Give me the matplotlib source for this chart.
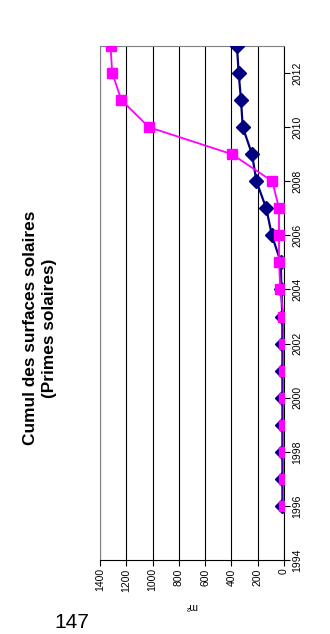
import matplotlib.pyplot as plt

years = list(range(1996, 2014))
# surfaces cumulées (m²) - deux séries
navy_vals = [12, 12, 12, 12, 12, 12, 12, 13, 20, 24, 92, 135, 210, 243, 314, 327, 345, 358]
pink_vals = [3, 3, 3, 3, 3, 3, 3, 4, 28, 38, 38, 38, 89, 396, 1028, 1237, 1307, 1320]
value_ticks = [0, 200, 400, 600, 800, 1000, 1200, 1400]
year_ticks = list(range(1994, 2013, 2))

plt.rcParams['font.family'] = ['Liberation Sans', 'DejaVu Sans']

fig = plt.figure(figsize=(3.3, 6.34), dpi=100)
ax = fig.add_axes([100 / 330, 1 - 560 / 634, 184 / 330, 514 / 634])

ax.plot(navy_vals, years, color='#000080', lw=1.6, marker='D', ms=6.8, zorder=3)
ax.plot(pink_vals, years, color='#FF00FF', lw=1.3, marker='s', ms=7.8, zorder=4)

ax.set_xlim(1400, 0)
ax.set_ylim(1994, 2013)
ax.set_xticks(value_ticks)
ax.set_yticks(year_ticks)
ax.yaxis.tick_right()
ax.tick_params(axis='x', labelrotation=90, labelsize=7.5, length=4, width=0.8, pad=2)
ax.tick_params(axis='y', labelrotation=90, labelsize=7.5, length=4, width=0.8, pad=2)
for lbl in ax.get_yticklabels():
    lbl.set_va('center')
ax.grid(axis='x', color='black', lw=0.8)
ax.set_axisbelow(True)

ax.spines['left'].set_color('#808080')
ax.spines['top'].set_color('#808080')
ax.spines['right'].set_color('black')
ax.spines['bottom'].set_color('black')

fig.text(40 / 330, 1 - 328 / 634, 'Cumul des surfaces solaires\n(Primes solaires)',
         rotation=90, ha='center', va='center', fontsize=12.4, fontweight='bold',
         multialignment='center', linespacing=1.3)
fig.text(191 / 330, 1 - 606 / 634, 'm²', rotation=180, ha='center', va='center', fontsize=7.5)
fig.text(72 / 330, 1 - 622 / 634, '147', ha='center', va='center', fontsize=15)

fig.savefig('out.png', dpi=100)
